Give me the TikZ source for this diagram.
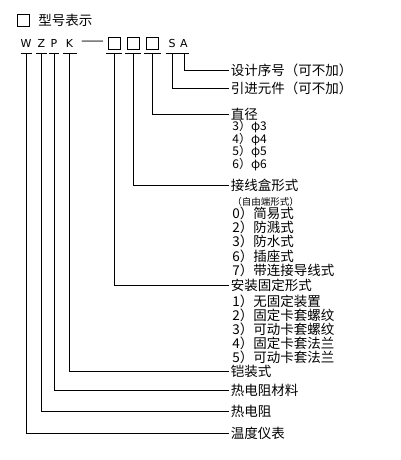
\documentclass[tikz,border=0pt]{standalone}
\usepackage{fontspec}
\setmainfont{Noto Sans CJK SC}
\newfontfamily\latinfont{DejaVu Sans}
\begin{document}
\begin{tikzpicture}[x=1pt,y=-1pt, line width=0.9pt,
  code/.style={font=\latinfont\fontsize{11}{11}\selectfont, inner sep=0pt},
  sq/.style={draw, line width=0.9pt, minimum size=12pt, inner sep=0pt},
  lbl/.style={anchor=west, inner sep=1.5pt, font=\fontsize{13.5}{14}\selectfont},
  subitem/.style={anchor=west, inner sep=0pt, font=\fontsize{13.5}{14}\selectfont},
  smallitem/.style={anchor=west, inner sep=0pt, font=\fontsize{12}{12}\selectfont},
  tinyitem/.style={anchor=west, inner sep=0pt, font=\fontsize{9.5}{10}\selectfont},
]
\useasboundingbox (0,0) rectangle (400,460);
% header
\node[sq] (hbox) at (23,20) {};
\node[lbl, inner sep=0pt] (title) at (38,20) {型号表示};
% code letters
\node[code] (W) at (26,43.3) {W};
\node[code] (Z) at (41.5,43.3) {Z};
\node[code] (P) at (54,43.3) {P};
\node[code] (K) at (69.5,43.3) {K};
\node[inner sep=0pt, font=\fontsize{14}{14}\selectfont, xscale=1.9, transform shape] (dash) at (92.5,43.3) {—};
\node[sq] (B1) at (114,43) {};
\node[sq] (B2) at (133,43) {};
\node[sq] (B3) at (152.5,43) {};
\node[code] (S) at (172,43.3) {S};
\node[code] (A) at (184,43.3) {A};
% underlines
\foreach \n/\w in {W/5.5, Z/5.5, P/5, K/7, B1/8, B2/8, B3/8.5, S/6.5, A/5}
  \draw ([shift={(-\w,10)}]\n.center) -- ([shift={(\w,10)}]\n.center);
% main labels
\node[lbl] (lA) at (229,70) {设计序号（可不加）};
\node[lbl] (lS) at (229,88) {引进元件（可不加）};
\node[lbl] (lB3) at (229,114) {直径};
\node[lbl] (lB2) at (229,185) {接线盒形式};
\node[lbl] (lB1) at (229,285) {安装固定形式};
\node[lbl] (lK) at (229,371) {铠装式};
\node[lbl] (lP) at (229,390) {热电阻材料};
\node[lbl] (lZ) at (229,411) {热电阻};
\node[lbl] (lW) at (229,433) {温度仪表};
% connectors
\foreach \n/\l in {A/lA, S/lS, B3/lB3, B2/lB2, B1/lB1, K/lK, P/lP, Z/lZ, W/lW}
  \draw ([shift={(0,10)}]\n.center) |- (\l.west);
% sub items: diameter
\node[smallitem] (d3) at (232,127) {3）φ3};
\node[smallitem] (d4) at (232,139.5) {4）φ4};
\node[smallitem] (d5) at (232,152) {5）φ5};
\node[smallitem] (d6) at (232,164.5) {6）φ6};
% junction box
\node[tinyitem] (jz) at (232,202) {（自由端形式）};
\node[subitem] (j0) at (232,213) {0）简易式};
\node[subitem] (j2) at (232,227) {2）防溅式};
\node[subitem] (j3) at (232,241) {3）防水式};
\node[subitem] (j6) at (232,256) {6）插座式};
\node[subitem] (j7) at (232,270) {7）带连接导线式};
% mounting
\node[subitem] (a1) at (232,301) {1）无固定装置};
\node[subitem] (a2) at (232,315) {2）固定卡套螺纹};
\node[subitem] (a3) at (232,329) {3）可动卡套螺纹};
\node[subitem] (a4) at (232,343) {4）固定卡套法兰};
\node[subitem] (a5) at (232,357) {5）可动卡套法兰};
\end{tikzpicture}
\end{document}
